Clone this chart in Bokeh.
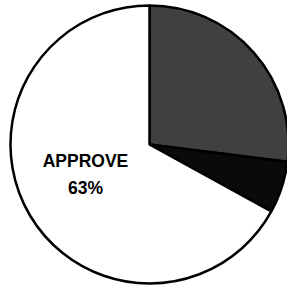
import numpy as np
from bokeh.plotting import figure
from bokeh.models import ColumnDataSource
from bokeh.core.properties import value
from bokeh.embed import file_html
from bokeh.resources import INLINE

# Slice shares as drawn (clockwise from 12 o'clock)
slice_names = ["Disapprove", "Other", "Approve"]
slice_shares = [27.0, 6.0, 67.0]
slice_colors = ["#404040", "#0a0a0a", "#ffffff"]
label_lines = ["APPROVE", "63%"]

W, H = 287, 290
cx, cy, r = 149, 146, 139

shares = np.array(slice_shares) / sum(slice_shares)
cum = np.concatenate([[0], np.cumsum(shares)])
start = np.pi / 2 - cum[:-1] * 2 * np.pi
end = np.pi / 2 - cum[1:] * 2 * np.pi

src = ColumnDataSource(dict(name=slice_names, start=start, end=end, color=slice_colors,
                            x=[cx] * 3, y=[cy] * 3))

p = figure(width=W, height=H, x_range=(0, W), y_range=(0, H),
           output_backend="svg", toolbar_location=None, min_border=0)
p.axis.visible = False
p.grid.visible = False
p.outline_line_color = None
p.background_fill_color = "white"
p.border_fill_color = "white"

p.wedge(x="x", y="y", radius=r, start_angle="start", end_angle="end",
        direction="clock", fill_color="color", line_color="black", line_width=2.5,
        source=src)

p.text(x=[85, 85], y=[130, 103], text=label_lines, text_align="center",
       text_baseline="middle", text_font=value("Liberation Sans"),
       text_font_style="bold", text_font_size="17.5px", text_color="black")

open("out.html", "w").write(file_html(p, INLINE))
